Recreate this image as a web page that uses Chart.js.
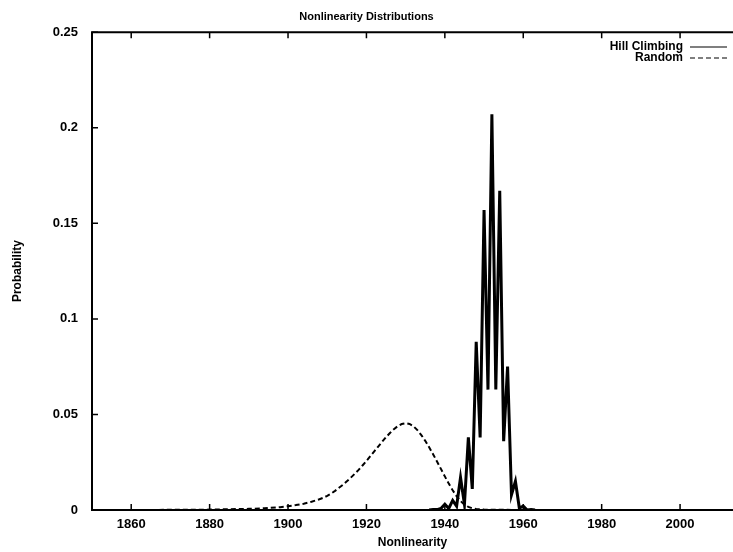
<!DOCTYPE html>
<html>
<head>
<meta charset="utf-8">
<title>Nonlinearity Distributions</title>
<script src="https://cdn.jsdelivr.net/npm/chart.js@4/dist/chart.umd.min.js"></script>
<style>
  html, body { margin: 0; padding: 0; background: #fff; }
  canvas { display: block; }
</style>
</head>
<body>
<canvas id="chart" width="733" height="552"></canvas>
<script>
// Hill climbing results (nonlinearity -> probability)
const hillX = [1936, 1937, 1938, 1939, 1940, 1941, 1942, 1943, 1944, 1945, 1946, 1947, 1948, 1949,
  1950, 1951, 1952, 1953, 1954, 1955, 1956, 1957, 1958, 1959, 1960, 1961, 1962, 1963];
const hillY = [0, 0.0003, 0.0002, 0.0008, 0.003, 0.0008, 0.005, 0.002, 0.017, 0.003, 0.038, 0.011, 0.088, 0.038,
  0.157, 0.063, 0.207, 0.063, 0.167, 0.036, 0.075, 0.008, 0.015, 0.001, 0.002, 0, 0.0003, 0];

// Random functions
const randomX = [1865, 1870, 1875, 1880, 1885, 1890, 1894, 1898, 1900, 1902, 1904, 1906, 1908, 1909,
  1910, 1911, 1912, 1913, 1914, 1915, 1916, 1917, 1918, 1919, 1920, 1921, 1922, 1923, 1924, 1925,
  1926, 1927, 1928, 1929, 1930, 1931, 1932, 1933, 1934, 1935, 1936, 1937, 1938, 1939, 1940, 1941,
  1942, 1943, 1944, 1945, 1946, 1947, 1948, 1950, 1955, 1960, 1993];
const randomY = [0, 0.0001, 0.0001, 0.0002, 0.0004, 0.0006, 0.0009, 0.0015, 0.002, 0.0026, 0.0033, 0.0043, 0.0056, 0.0064,
  0.0074, 0.0086, 0.01, 0.0116, 0.0132, 0.015, 0.0169, 0.0189, 0.021, 0.0233, 0.0257, 0.0282, 0.0307, 0.0332, 0.0357, 0.0381,
  0.0403, 0.0423, 0.0439, 0.045, 0.0454, 0.045, 0.0438, 0.0418, 0.0392, 0.0362, 0.0328, 0.0292, 0.0254, 0.0215, 0.0176, 0.0138,
  0.0103, 0.0072, 0.0047, 0.0028, 0.0016, 0.0009, 0.0005, 0.0002, 0.0001, 0, 0];

const xTicks = [1860, 1880, 1900, 1920, 1940, 1960, 1980, 2000];
const yTicks = [0, 0.05, 0.1, 0.15, 0.2, 0.25];
const yTickLabels = ['0', '0.05', '0.1', '0.15', '0.2', '0.25'];

const FONT = 'Liberation Sans, Arial, Helvetica, sans-serif';

const toPoints = (xs, ys) => xs.map((x, i) => ({ x: x, y: ys[i] }));

// gnuplot style frame with inward ticks
const framePlugin = {
  id: 'frame',
  afterDatasetsDraw(chart) {
    const { ctx, chartArea: a, scales } = chart;
    ctx.save();
    ctx.strokeStyle = '#000';
    ctx.lineWidth = 2;
    ctx.beginPath();
    ctx.moveTo(a.right, a.top);
    ctx.lineTo(a.left, a.top);
    ctx.lineTo(a.left, a.bottom);
    ctx.lineTo(a.right, a.bottom);
    ctx.stroke();

    ctx.lineWidth = 1.5;
    ctx.beginPath();
    scales.x.ticks.forEach(t => {
      const px = scales.x.getPixelForValue(t.value);
      ctx.moveTo(px, a.bottom);
      ctx.lineTo(px, a.bottom - 6);
      ctx.moveTo(px, a.top);
      ctx.lineTo(px, a.top + 6);
    });
    scales.y.ticks.forEach(t => {
      const py = scales.y.getPixelForValue(t.value);
      ctx.moveTo(a.left, py);
      ctx.lineTo(a.left + 6, py);
    });
    ctx.stroke();
    ctx.restore();
  }
};

// legend inside the plot, top right, text on the left of the sample
const keyPlugin = {
  id: 'key',
  afterDraw(chart) {
    const { ctx } = chart;
    ctx.save();
    ctx.font = 'bold 12px ' + FONT;
    ctx.fillStyle = '#000';
    ctx.textAlign = 'right';
    ctx.textBaseline = 'middle';
    chart.data.datasets.forEach((ds, i) => {
      const y = 47 + i * 11;
      ctx.fillText(ds.label, 683, y);
      ctx.strokeStyle = ds.borderColor;
      ctx.lineWidth = 1.2;
      ctx.setLineDash(ds.borderDash || []);
      ctx.beginPath();
      ctx.moveTo(690, y);
      ctx.lineTo(727, y);
      ctx.stroke();
    });
    ctx.restore();
  }
};

new Chart(document.getElementById('chart'), {
  type: 'line',
  data: {
    datasets: [
      {
        label: 'Hill Climbing',
        data: toPoints(hillX, hillY),
        borderColor: '#000',
        borderWidth: 3,
        pointRadius: 0,
        tension: 0
      },
      {
        label: 'Random',
        data: toPoints(randomX, randomY),
        borderColor: '#000',
        borderWidth: 2,
        borderDash: [5, 3],
        pointRadius: 0,
        tension: 0
      }
    ]
  },
  options: {
    responsive: false,
    devicePixelRatio: 1,
    animation: false,
    layout: { padding: 0 },
    plugins: {
      legend: { display: false },
      tooltip: { enabled: false },
      title: {
        display: true,
        text: 'Nonlinearity Distributions',
        color: '#000',
        font: { family: FONT, size: 11, weight: 'bold' },
        padding: { top: 10, bottom: 9 }
      }
    },
    scales: {
      x: {
        type: 'linear',
        min: 1850,
        max: 2013.5,
        grid: { display: false, drawTicks: false },
        border: { display: false },
        afterBuildTicks: scale => { scale.ticks = xTicks.map(v => ({ value: v })); },
        afterFit: scale => { scale.height = 42; },
        ticks: {
          color: '#000',
          font: { family: FONT, size: 13, weight: 'bold' },
          padding: 7,
          maxRotation: 0,
          callback: v => String(v)
        },
        title: {
          display: true,
          text: 'Nonlinearity',
          color: '#000',
          font: { family: FONT, size: 12, weight: 'bold' },
          padding: { top: 0, bottom: 2 }
        }
      },
      y: {
        min: 0,
        max: 0.25,
        grid: { display: false, drawTicks: false },
        border: { display: false },
        afterBuildTicks: scale => { scale.ticks = yTicks.map(v => ({ value: v })); },
        afterFit: scale => { scale.width = 92; },
        ticks: {
          color: '#000',
          font: { family: FONT, size: 13, weight: 'bold' },
          padding: 14,
          callback: (v, i) => yTickLabels[i]
        },
        title: {
          display: true,
          text: 'Probability',
          color: '#000',
          font: { family: FONT, size: 12, weight: 'bold' },
          padding: { top: 10, bottom: 0 }
        }
      }
    }
  },
  plugins: [framePlugin, keyPlugin]
});
</script>
</body>
</html>
